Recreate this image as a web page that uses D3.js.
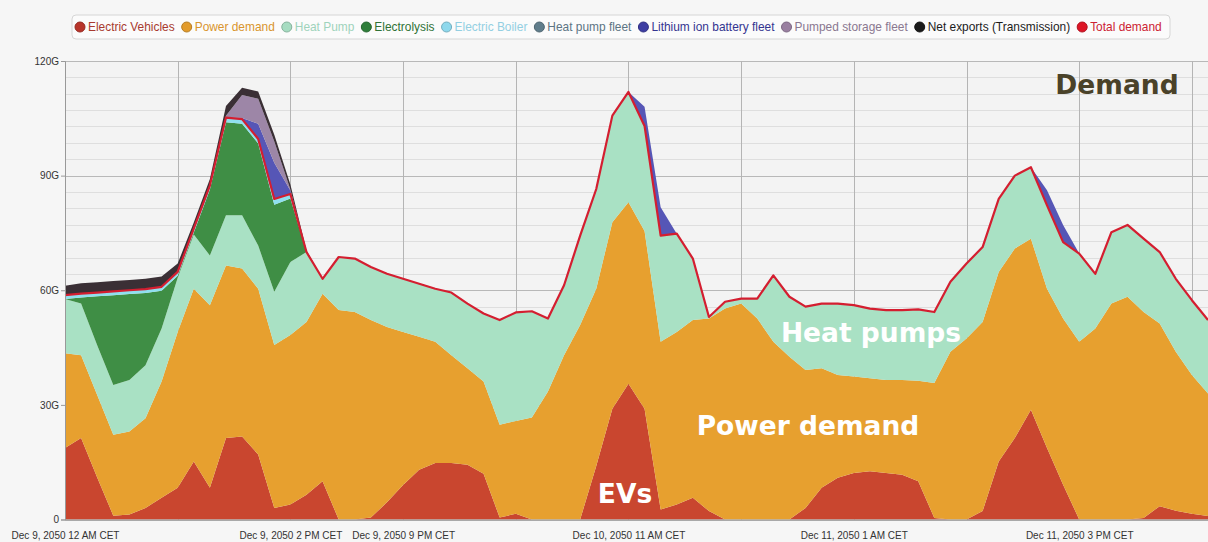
<!DOCTYPE html>
<html>
<head>
<meta charset="utf-8">
<script src="https://cdn.jsdelivr.net/npm/d3@7"></script>
<style>
body { margin: 0; background: #f6f6f6; }
svg { display: block; }
.axis text { font-family: "Liberation Sans", Arial, sans-serif; font-size: 10px; fill: #333; }
.axis path { stroke: #999; }
.axis line { stroke: #999; }
</style>
</head>
<body>
<script>
// hourly values in GW (G), Dec 9 2050 00:00 CET onwards, 72 hours
var hours = d3.range(72);

var evs = [18.7,21.3,11,1,1.3,3,5.7,8.3,15.2,8.3, 21.3,21.7,17,3,3.9,6.5,10,0,0,0.5,
  4.5,9,13,14.8,14.8,14.3,12,0.5,1.5,0, 0,0,0,14,29,35.5,29,2.6,3.9,5.7,
  2.2,0,0,0,0,0,3,8.3,10.9,12.2, 12.6,12.2,11.7,10,0.4,0,0,2.2,15.2,21.3,
  28.7,18.7,9.1,0,0,0,0,0.4,3.5,2.3, 1.5,0.9];
var powerDemand = [24.8,21.7,21.6,21.2,21.7,23.5,30.4,40.8,45.2,47.8, 45.2,44,43.4,42.7,44.4,45.2,49.1,54.8,54.3,51.7,
  45.9,40.1,34.8,31.7,28.2,25.3,24.1,24.3,24.3,26.7, 33.5,43,50.9,46.4,48.8,47.5,46.5,43.9,45.2,46.5,
  50.4,55.2,56.5,52.6,46.5,42.6,36.1,31.3,26.9,25.2, 24.4,24.3,24.8,26.3,35.3,43.9,47.4,49.5,49.6,49.6,
  44.8,41.7,43.5,46.5,50,56.5,58.3,53.9,47.8,41.6, 36.3,32.1];
var heatPump = [14.2,13.5,13,13,13.5,13.9,13.9,14.2,14.2,13, 13.1,13.9,11.3,13.9,19.1,18.3,3.9,13.9,14,13.9,
  13.9,13.9,13.9,13.9,16.4,16.9,17.8,27.4,28.4,27.8, 19.1,18.3,23.4,26.1,27.9,28.9,27.5,27.8,25.7,16.1,
  0.4,1.8,1.3,5.2,17.4,15.7,16.6,16.9,18.7,18.7, 18.2,18.3,18.3,18.7,18.6,18.3,19.6,19.6,19.1,19.1,
  18.7,21.8,20,23.1,14.3,18.7,18.8,19.2,18.7,19.1, 19.6,19.2];
var electrolysis = [0,1.6,12.8,23.5,22.5,18.9,9.9,0.5,0.5,17.3, 24.4,24,26.7,22.8,16.6,0,0,0,0,0,
  0,0,0,0,0,0,0,0,0,0, 0,0,0,0,0,0,0,0,0,0,
  0,0,0,0,0,0,0,0,0,0, 0,0,0,0,0,0,0,0,0,0,
  0,0,0,0,0,0,0,0,0,0, 0,0];
var electricBoiler = [1,1,1,1,1,1,1,1,1,1.2, 1.2,1.2,1.2,1.5,1.2,0,0,0,0,0,
  0,0,0,0,0,0,0,0,0,0, 0,0,0,0,0,0,0,0,0,0,
  0,0,0,0,0,0,0,0,0,0, 0,0,0,0,0,0,0,0,0,0,
  0,0,0,0,0,0,0,0,0,0, 0,0];
var heatPumpFleet = [0,0,0,0,0,0,0,0,0,0, 0,0,0,0,0,0,0,0,0,0,
  0,0,0,0,0,0,0,0,0,0, 0,0,0,0,0,0,0,0,0,0,
  0,0,0,0,0,0,0,0,0,0, 0,0,0,0,0,0,0,0,0,0,
  0,0,0,0,0,0,0,0,0,0, 0,0];
var batteryFleet = [0,0,0,0,0,0,0,0,0,0, 0,0.3,4,9.5,0.9,0,0,0,0,0,
  0,0,0,0,0,0,0,0,0,0, 0,0,0,0,0,0,5,7.4,0,0,
  0,0,0,0,0,0,0,0,0,0, 0,0,0,0,0,0,0,0,0,0,
  0,4,4.5,0,0,0,0,0,0,0, 0,0];
var pumpedStorage = [0,0,0,0,0,0,0,0,0,0, 0.5,6,6.5,5.5,0.3,0,0,0,0,0,
  0,0,0,0,0,0,0,0,0,0, 0,0,0,0,0,0,0,0,0,0,
  0,0,0,0,0,0,0,0,0,0, 0,0,0,0,0,0,0,0,0,0,
  0,0,0,0,0,0,0,0,0,0, 0,0];
var netExports = [2.5,2.7,2.7,2.7,2.7,2.7,2.7,2.2,1.6,1.5, 2.5,1.9,1.9,1.8,1.3,0.4,0,0,0,0,
  0,0,0,0,0,0,0,0,0,0, 0,0,0,0,0,0,0,0,0,0,
  0,0,0,0,0,0,0,0,0,0, 0,0,0,0,0,0,0,0,0,0,
  0,0,0,0,0,0,0,0,0,0, 0,0];
var totalDemand = [58.7,59.1,59.4,59.7,60,60.3,60.9,64.8,76.1,87.4, 105.2,104.8,99.6,83.9,85.2,70,63,68.7,68.3,66.1,
  64.3,63,61.7,60.4,59.4,56.5,53.9,52.2,54.2,54.5, 52.6,61.3,74.3,86.5,105.7,111.9,103,74.3,74.8,68.3,
  53,57,57.8,57.8,63.9,58.3,55.7,56.5,56.5,56.1, 55.2,54.8,54.8,55,54.3,62.2,67,71.3,83.9,90,
  92.2,82.2,72.6,69.6,64.3,75.2,77.1,73.5,70,63, 57.4,52.2];

var seriesNames = ["Electric Vehicles", "Power demand", "Heat Pump", "Electrolysis", "Electric Boiler",
  "Heat pump fleet", "Lithium ion battery fleet", "Pumped storage fleet", "Net exports (Transmission)"];
var seriesValues = [evs, powerDemand, heatPump, electrolysis, electricBoiler, heatPumpFleet,
  batteryFleet, pumpedStorage, netExports];
var legendNames = seriesNames.concat(["Total demand"]);

var xTickHours = [0, 14, 21, 35, 49, 63];
var xTickLabels = ["Dec 9, 2050 12 AM CET", "Dec 9, 2050 2 PM CET", "Dec 9, 2050 9 PM CET",
  "Dec 10, 2050 11 AM CET", "Dec 11, 2050 1 AM CET", "Dec 11, 2050 3 PM CET"];
var yTicks = [0, 30, 60, 90, 120];
var yTickLabels = ["0", "30G", "60G", "90G", "120G"];

var areaColors = ["#c9462f", "#e7a02f", "#a9e1c4", "#3f8e45", "#8fe0ef", "#7b8fa0", "#5656b6", "#9d86a7", "#3a2f35"];
var legendDots = ["#b8342a", "#e29b2b", "#a6dcc1", "#2f7e3a", "#8ed8ec", "#607d8b", "#3d3da2", "#9a80a1", "#1a1a1a", "#dd1526"];
var legendText = ["#a83a2f", "#d9952e", "#9fd3bb", "#2f7236", "#93cfe2", "#5d7584", "#343490", "#8a7890", "#1b1b1b", "#cc2233"];
var totalColor = "#d41e30";

var width = 1208, height = 542;
var plotLeft = 65, plotRight = 1208, plotTop = 61, plotBottom = 519.5;

var x = d3.scaleLinear().domain([0, 71]).range([plotLeft, plotRight]);
var y = d3.scaleLinear().domain([0, 120]).range([plotBottom, plotTop]);

var svg = d3.select("body").append("svg").attr("width", width).attr("height", height);

// plot background and grid
svg.append("rect").attr("x", plotLeft).attr("y", plotTop).attr("width", plotRight - plotLeft)
  .attr("height", plotBottom - plotTop).attr("fill", "#f3f3f3");

var minor = d3.range(0, 29).map(function (i) { return i * 30 / 7; });
svg.append("g").selectAll("line").data(minor).enter().append("line")
  .attr("x1", plotLeft).attr("x2", plotRight)
  .attr("y1", function (d) { return Math.round(y(d)) + 0.5; })
  .attr("y2", function (d) { return Math.round(y(d)) + 0.5; })
  .attr("stroke", "#dedede");
svg.append("g").selectAll("line").data(yTicks).enter().append("line")
  .attr("x1", plotLeft).attr("x2", plotRight)
  .attr("y1", function (d) { return Math.round(y(d)) + 0.5; })
  .attr("y2", function (d) { return Math.round(y(d)) + 0.5; })
  .attr("stroke", "#b8b8b8");
svg.append("g").selectAll("line").data(d3.range(7, 72, 7)).enter().append("line")
  .attr("y1", plotTop).attr("y2", plotBottom)
  .attr("x1", function (d) { return Math.round(x(d)) + 0.5; })
  .attr("x2", function (d) { return Math.round(x(d)) + 0.5; })
  .attr("stroke", "#b4b4b4");

// stacked areas
var table = hours.map(function (h) {
  var row = { h: h };
  seriesNames.forEach(function (n, i) { row[n] = seriesValues[i][h]; });
  return row;
});
var stack = d3.stack().keys(seriesNames);
var layers = stack(table);

var area = d3.area()
  .x(function (d) { return x(d.data.h); })
  .y0(function (d) { return y(d[0]); })
  .y1(function (d) { return y(d[1]); });

svg.append("g").selectAll("path").data(layers).enter().append("path")
  .attr("d", area)
  .attr("fill", function (d, i) { return areaColors[i]; });

// total demand line
var line = d3.line().x(function (d, i) { return x(i); }).y(function (d) { return y(d); });
svg.append("path").datum(totalDemand).attr("d", line)
  .attr("fill", "none").attr("stroke", totalColor).attr("stroke-width", 2.2).attr("stroke-linejoin", "round");

// axes
var yAxis = d3.axisLeft(y).tickValues(yTicks).tickFormat(function (d, i) { return yTickLabels[i]; }).tickSize(4).tickPadding(2);
svg.append("g").attr("class", "axis").attr("transform", "translate(" + plotLeft + ",0)").call(yAxis);

var xAxis = d3.axisBottom(x).tickValues(xTickHours).tickFormat(function (d, i) { return xTickLabels[i]; }).tickSize(0).tickPadding(12);
var xg = svg.append("g").attr("class", "axis").attr("transform", "translate(0," + plotBottom + ")").call(xAxis);
xg.selectAll("text").attr("fill", "#222");

// legend
var legend = svg.append("g");
legend.append("rect").attr("x", 72).attr("y", 15).attr("width", 1098).attr("height", 24).attr("rx", 4)
  .attr("fill", "#fbfbfb").attr("stroke", "#d6d6d6");
var items = legend.selectAll("g.item").data(legendNames).enter().append("g").attr("class", "item");
items.append("circle").attr("r", 5).attr("cy", 27)
  .attr("fill", function (d, i) { return legendDots[i]; })
  .attr("stroke", function (d, i) { return d3.color(legendDots[i]).darker(0.6); });
var labels = items.append("text").text(function (d) { return d; })
  .attr("y", 31).attr("font-family", "'Liberation Sans', Arial, sans-serif").attr("font-size", 11)
  .attr("fill", function (d, i) { return legendText[i]; });
var sumW = 0;
labels.each(function () { sumW += this.getComputedTextLength(); });
var fs = 11 * (1084 - legendNames.length * 9 - (legendNames.length - 1) * 11) / sumW;
labels.attr("font-size", fs);
var cx = 80;
items.each(function () {
  var g = d3.select(this);
  g.select("circle").attr("cx", cx);
  var t = g.select("text").attr("x", cx + 8);
  cx = cx + 9 + t.node().getComputedTextLength() + 11;
});

// annotations
function note(txt, xc, yb, col) {
  svg.append("text").text(txt).attr("x", xc).attr("y", yb).attr("text-anchor", "middle")
    .attr("font-family", "'DejaVu Sans', Verdana, sans-serif").attr("font-weight", "bold")
    .attr("font-size", 26.5).attr("fill", col);
}
note("Demand", 1117, 94, "#4a4229");
note("Heat pumps", 871, 342, "#ffffff");
note("Power demand", 808, 435, "#ffffff");
note("EVs", 625, 503, "#ffffff");
</script>
</body>
</html>
